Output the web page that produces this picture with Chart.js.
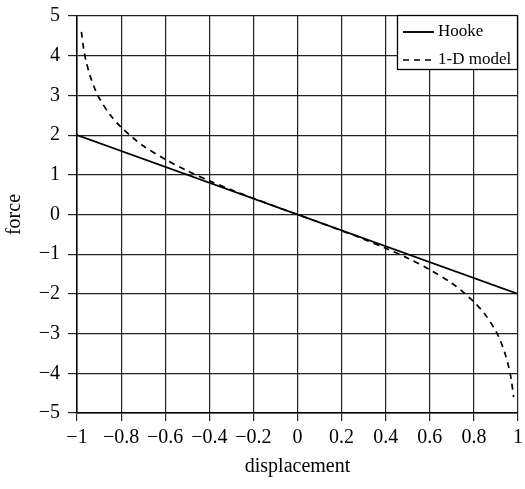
<!DOCTYPE html>
<html><head><meta charset="utf-8">
<script src="https://cdn.jsdelivr.net/npm/chart.js@4/dist/chart.umd.min.js"></script>
<style>html,body{margin:0;padding:0;background:#fff;}#wrap{width:525px;height:489px;position:relative}</style>
</head><body><div id="wrap"><canvas id="c" width="525" height="489"></canvas></div>
<script>
const seriesNames = ['Hooke', '1-D model'];
const hookeX = [-1, 1];
const hookeY = [2, -2];
const modelX = [-0.98,-0.97,-0.96,-0.94,-0.92,-0.9,-0.85,-0.8,-0.75,-0.7,-0.6,-0.5,-0.4,-0.3,-0.2,-0.1,0,0.1,0.2,0.3,0.4,0.5,0.6,0.7,0.75,0.8,0.85,0.9,0.92,0.94,0.96,0.97,0.98];
const modelY = [4.6,4.18,3.89,3.48,3.18,2.94,2.51,2.2,1.95,1.73,1.39,1.1,0.85,0.62,0.41,0.2,0,-0.2,-0.41,-0.62,-0.85,-1.1,-1.39,-1.73,-1.95,-2.2,-2.51,-2.94,-3.18,-3.48,-3.89,-4.18,-4.6];
const xTickValues = [-1,-0.8,-0.6,-0.4,-0.2,0,0.2,0.4,0.6,0.8,1];
const xTickLabels = ['\u22121','\u22120.8','\u22120.6','\u22120.4','\u22120.2','0','0.2','0.4','0.6','0.8','1'];
const yTickValues = [-5,-4,-3,-2,-1,0,1,2,3,4,5];
const yTickLabels = ['\u22125','\u22124','\u22123','\u22122','\u22121','0','1','2','3','4','5'];
const xTitle = 'displacement';
const yTitle = 'force';

const SERIF = "'Liberation Serif', 'DejaVu Serif', serif";
const gridColor = '#222';

const boxLegend = {
  id: 'boxLegend',
  afterDraw(chart) {
    const ctx = chart.ctx;
    const a = chart.chartArea;
    const w = 121, h = 55;
    const x0 = a.right - w, y0 = a.top - 1;
    ctx.save();
    ctx.fillStyle = '#fff';
    ctx.fillRect(x0, y0, w, h);
    ctx.strokeStyle = '#000';
    ctx.lineWidth = 1.3;
    ctx.strokeRect(x0 + 0.5, y0 + 0.5, w - 1, h - 1);
    ctx.font = "17px " + SERIF;
    ctx.fillStyle = '#000';
    ctx.textBaseline = 'middle';
    chart.data.datasets.forEach((ds, i) => {
      const yy = y0 + 17 + i * 28;
      ctx.beginPath();
      ctx.setLineDash(ds.borderDash || []);
      ctx.lineWidth = ds.borderWidth;
      ctx.moveTo(x0 + 6, yy);
      ctx.lineTo(x0 + 37, yy);
      ctx.stroke();
      ctx.setLineDash([]);
      ctx.fillText(ds.label, x0 + 41, yy);
    });
    ctx.restore();
  }
};

new Chart(document.getElementById('c'), {
  type: 'scatter',
  data: {
    datasets: [
      { label: seriesNames[0], data: hookeX.map((x, i) => ({x, y: hookeY[i]})), showLine: true,
        borderColor: '#000', borderWidth: 1.9, pointRadius: 0, fill: false },
      { label: seriesNames[1], data: modelX.map((x, i) => ({x, y: modelY[i]})), showLine: true,
        borderColor: '#000', borderWidth: 1.7, borderDash: [6, 5], pointRadius: 0, fill: false, tension: 0.3 }
    ]
  },
  options: {
    responsive: false, animation: false, devicePixelRatio: 1,
    layout: { padding: { left: 0, top: 16, right: 7, bottom: 0 } },
    plugins: { legend: { display: false }, tooltip: { enabled: false } },
    scales: {
      x: {
        type: 'linear', min: -1, max: 1,
        afterBuildTicks: s => { s.ticks = xTickValues.map(v => ({value: v})); },
        afterFit: s => { s.height = 76; s.paddingLeft = 0; s.paddingRight = 0; },
        ticks: { callback: (v, i) => xTickLabels[i], color: '#000', font: { family: SERIF, size: 20 }, padding: 5, maxRotation: 0, autoSkip: false },
        grid: { color: gridColor, lineWidth: 1.2, tickLength: 8, tickColor: gridColor },
        border: { display: true, color: '#000', width: 1.5 },
        title: { display: true, text: xTitle, color: '#000', font: { family: SERIF, size: 20 }, padding: { top: 0, bottom: 10 } }
      },
      y: {
        type: 'linear', min: -5, max: 5,
        afterBuildTicks: s => { s.ticks = yTickValues.map(v => ({value: v})); },
        afterFit: s => { s.width = 77; s.paddingTop = 0; s.paddingBottom = 0; },
        ticks: { callback: (v, i) => yTickLabels[i], color: '#000', font: { family: SERIF, size: 20 }, padding: 8, autoSkip: false },
        grid: { color: gridColor, lineWidth: 1.2, tickLength: 9, tickColor: gridColor },
        border: { display: true, color: '#000', width: 1.5 },
        title: { display: true, text: yTitle, color: '#000', font: { family: SERIF, size: 20 }, padding: { top: 3, bottom: 0 } }
      }
    }
  },
  plugins: [boxLegend]
});
</script></body></html>
